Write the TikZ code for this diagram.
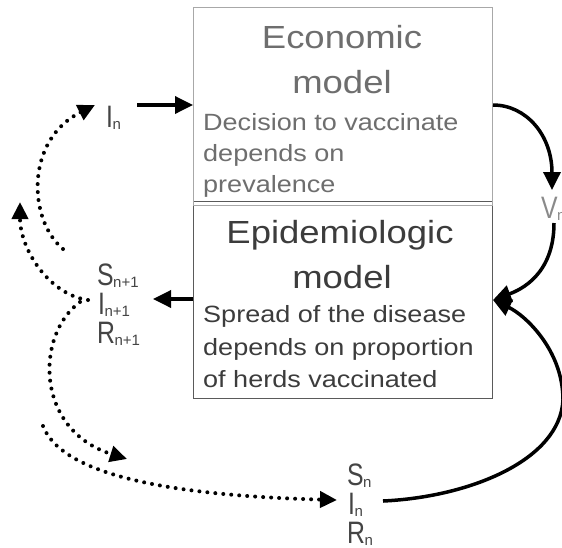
\documentclass[tikz,border=0pt]{standalone}
\usepackage{fontspec}
\setmainfont{Liberation Sans}
\newfontfamily\headfont[FakeStretch=1.14]{Liberation Sans}
\newfontfamily\bodyfont[FakeStretch=1.15]{Liberation Sans}
\newfontfamily\labfont[FakeStretch=0.8]{Liberation Sans}
\usetikzlibrary{arrows.meta}

\definecolor{econtext}{HTML}{6E6E6E}
\definecolor{epitext}{HTML}{3C3C3C}
\definecolor{econline}{HTML}{A8A8A8}
\definecolor{epiline}{HTML}{5A5A5A}
\definecolor{labtext}{HTML}{444444}
\definecolor{vtext}{HTML}{8A8A8A}

% lowered index after a state letter
\newcommand{\lsub}[1]{\kern-0.5pt\raisebox{-2pt}{\rmfamily\fontsize{15}{15}\selectfont #1}}

\tikzset{
  modelbox/.style={draw, line width=1pt, inner sep=0pt, anchor=north west,
                   minimum width=299pt},
  head/.style={anchor=base, inner sep=0pt, font=\headfont\fontsize{32}{36}\selectfont},
  body/.style={anchor=base west, inner sep=0pt, font=\bodyfont\fontsize{23.5}{28}\selectfont},
  lab/.style={anchor=base west, inner sep=0pt, text=labtext,
              font=\labfont\fontsize{31}{34}\selectfont},
  conn/.style={line width=3.5pt, -{Triangle[length=18pt,width=17pt]}},
  dotconn/.style={line width=4pt, line cap=round, dash pattern=on 0pt off 8pt,
                  -{Triangle[length=17pt,width=16pt]}}
}

\begin{document}
\begin{tikzpicture}[x=1pt,y=-1pt]
\useasboundingbox (0,0) rectangle (562,547);

% the two models
\node[modelbox, draw=epiline, minimum height=197pt] (epi) at (193,201) {};
\node[modelbox, draw=econline, minimum height=198pt] (econ) at (193,7) {};

\node[head, text=econtext] (econH1) at (342,48) {Economic};
\node[head, text=econtext] (econH2) at (342,93) {model};
\node[body, text=econtext] (econB1) at (203,130) {Decision to vaccinate};
\node[body, text=econtext] (econB2) at (203,161) {depends on};
\node[body, text=econtext] (econB3) at (203,192) {prevalence};

\node[head, text=epitext] (epiH1) at (340,243) {Epidemiologic};
\node[head, text=epitext] (epiH2) at (342,288) {model};
\node[body, text=epitext] (epiB1) at (203,322) {Spread of the disease};
\node[body, text=epitext] (epiB2) at (203,355) {depends on proportion};
\node[body, text=epitext] (epiB3) at (203,387) {of herds vaccinated};

% state labels
\node[lab] (inTop) at (106,127) {I\lsub{n}};
\node[lab, text=vtext] (vn) at (541,218) {V\lsub{n}};
\node[lab] (s1) at (97,285) {S\lsub{n+1}};
\node[lab] (i1) at (98,314) {I\lsub{n+1}};
\node[lab] (r1) at (97,343) {R\lsub{n+1}};
\node[lab] (s0) at (347,485) {S\lsub{n}};
\node[lab] (i0) at (348,514) {I\lsub{n}};
\node[lab] (r0) at (347,543) {R\lsub{n}};

% connector ends beside the labels
\coordinate (inOut) at (137,105);
\coordinate (inIn) at (95,105);
\coordinate (vIn) at (552,190);
\coordinate (vOut) at (554,223);
\coordinate (yIn) at (0,300);
\coordinate (yOut) at (0,299);
\coordinate (s1In) at (153,299);
\coordinate (i1OutA) at (88,300);
\coordinate (i1OutB) at (80,302);
\coordinate (i0Out) at (383,501);
\coordinate (i0In) at (337,500);
\coordinate (loopA) at (63,249);
\coordinate (loopB) at (20,202);
\coordinate (loopC) at (127,459);
\coordinate (loopD) at (43,426);

% solid flows
\draw[conn] (inOut) -- (inOut -| econ.west);
\draw[conn] (inOut -| econ.east) .. controls +(33,0) and +(0,-55) .. (vIn);
\draw[conn] (vOut) .. controls (554,275) and (520,290) .. (epi.east |- yIn);
\draw[conn] (i0Out) .. controls (470,497) and (560,460) .. (563,400)
            .. controls (563,350) and (525,315) .. (epi.east |- yIn);
\draw[conn] (epi.west |- yOut) -- (s1In);

% dotted time steps
\draw[dotconn] (loopA) .. controls (28,220) and (25,140) .. (inIn);
\draw[dotconn] (i1OutA) .. controls (50,295) and (20,250) .. (loopB);
\draw[dotconn] (i1OutB) .. controls (35,335) and (35,430) .. (loopC);
\draw[dotconn] (loopD) .. controls (60,470) and (150,495) .. (i0In);
\end{tikzpicture}
\end{document}
